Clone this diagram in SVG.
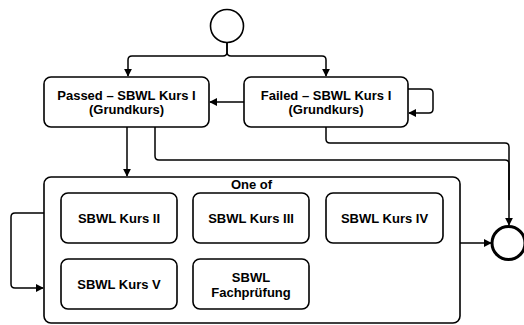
<svg xmlns="http://www.w3.org/2000/svg" width="524" height="325" viewBox="0 0 524 325">
  <defs>
    <marker id="arrow" viewBox="0 0 10 10" refX="9" refY="5" markerWidth="8" markerHeight="8" markerUnits="userSpaceOnUse" orient="auto">
      <path d="M0,0 L10,5 L0,10 z" fill="#000"/>
    </marker>
    <style>
      .box { fill: #fff; stroke: #000; stroke-width: 1.6; }
      .lbl { font-family: "Liberation Sans", Arial, sans-serif; font-size: 13px; font-weight: bold; fill: #000; text-anchor: middle; }
      .edge { fill: none; stroke: #000; stroke-width: 1.5; }
      .arr { marker-end: url(#arrow); }
    </style>
  </defs>
  <rect width="524" height="325" fill="#fff"/>

  <g id="connectors">
    <!-- start fork -->
    <path class="edge arr" d="M227,43 V52 Q227,56 223,56 H132 Q128,56 128,60 V76"/>
    <path class="edge arr" d="M227,43 V52 Q227,56 231,56 H322 Q326,56 326,60 V76"/>
    <!-- failed to passed -->
    <path class="edge arr" d="M244,102 H210"/>
    <!-- failed self loop -->
    <path class="edge arr" d="M408,89 H429 Q433,89 433,93 V109 Q433,113 429,113 H409"/>
    <!-- passed to container -->
    <path class="edge arr" d="M127,127 V176"/>
    <!-- passed to end -->
    <path class="edge" d="M155,127 V156 Q155,160 159,160 H505 Q509,160 509,164 V200"/>
    <!-- failed to end -->
    <path class="edge arr" d="M326,127 V139 Q326,143 330,143 H505 Q509,143 509,147 V225"/>
    <!-- container to end -->
    <path class="edge arr" d="M460,243 H491"/>
    <!-- container self loop -->
    <path class="edge arr" d="M44,213 H15 Q11,213 11,217 V284 Q11,288 15,288 H43"/>
  </g>

  <g id="start">
    <circle cx="227" cy="26" r="16.5" fill="#fff" stroke="#000" stroke-width="1.6"/>
  </g>

  <g id="end">
    <circle cx="508.5" cy="243" r="16.5" fill="#fff" stroke="#000" stroke-width="3"/>
  </g>

  <g id="passed">
    <rect class="box" x="44" y="77" width="165" height="50" rx="7"/>
    <text class="lbl" x="126.5" y="99.5">Passed – SBWL Kurs I</text>
    <text class="lbl" x="126.5" y="114">(Grundkurs)</text>
  </g>

  <g id="failed">
    <rect class="box" x="244" y="77" width="164" height="50" rx="7"/>
    <text class="lbl" x="326" y="99.5">Failed – SBWL Kurs I</text>
    <text class="lbl" x="326" y="114">(Grundkurs)</text>
  </g>

  <g id="one-of">
    <rect class="box" x="44" y="177" width="416" height="146" rx="7"/>
    <text class="lbl" x="251.5" y="189">One of</text>
  </g>

  <g id="kurs-2">
    <rect class="box" x="61" y="193" width="116" height="50" rx="7"/>
    <text class="lbl" x="119" y="223">SBWL Kurs II</text>
  </g>
  <g id="kurs-3">
    <rect class="box" x="193" y="193" width="116" height="50" rx="7"/>
    <text class="lbl" x="251" y="223">SBWL Kurs III</text>
  </g>
  <g id="kurs-4">
    <rect class="box" x="326" y="193" width="117" height="50" rx="7"/>
    <text class="lbl" x="384.5" y="223">SBWL Kurs IV</text>
  </g>
  <g id="kurs-5">
    <rect class="box" x="61" y="259" width="116" height="50" rx="7"/>
    <text class="lbl" x="119" y="289">SBWL Kurs V</text>
  </g>
  <g id="fachpruefung">
    <rect class="box" x="193" y="259" width="116" height="50" rx="7"/>
    <text class="lbl" x="251" y="281.5">SBWL</text>
    <text class="lbl" x="251" y="296.5">Fachprüfung</text>
  </g>
</svg>
